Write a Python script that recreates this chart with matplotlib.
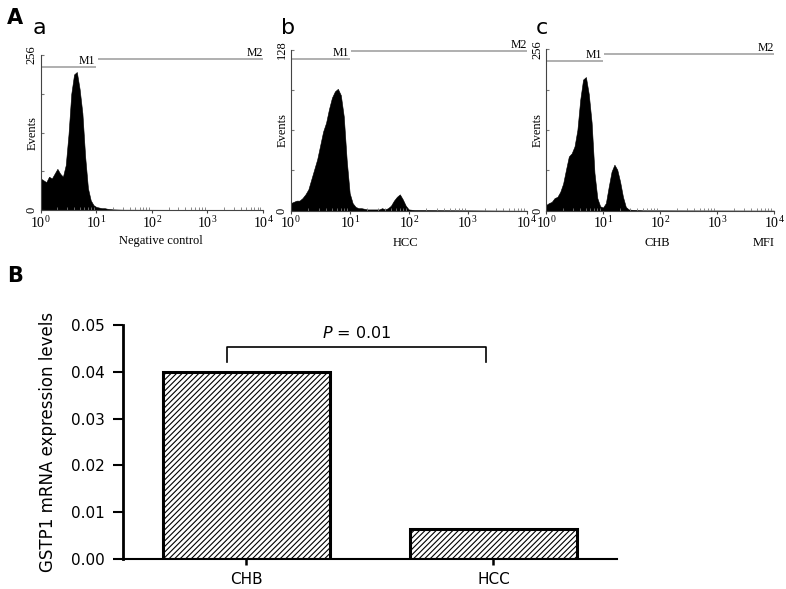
import numpy as np
import matplotlib.pyplot as plt

# =========================
# A. Flow cytometry histograms (log10 position, events)
# =========================
neg_log = [0.00, 0.05, 0.10, 0.15, 0.20, 0.25, 0.30, 0.35, 0.40, 0.45,
           0.50, 0.55, 0.60, 0.65, 0.70, 0.75, 0.80, 0.85, 0.90, 0.95,
           1.00, 1.05, 1.10, 1.15, 1.20, 1.30, 1.50, 4.00]
neg_events = [52, 49, 46, 55, 52, 60, 68, 60, 55, 74,
              125, 192, 224, 228, 200, 160, 88, 36, 16, 8,
              5, 4, 3, 3, 2, 1, 0.5, 0]

hcc_log = [0.00, 0.05, 0.10, 0.15, 0.20, 0.25, 0.30, 0.35, 0.40, 0.45,
           0.50, 0.55, 0.60, 0.65, 0.70, 0.75, 0.80, 0.85, 0.90, 0.95,
           1.00, 1.05, 1.10, 1.15, 1.20, 1.25, 1.30, 1.40, 1.50, 1.55,
           1.60, 1.65, 1.70, 1.75, 1.80, 1.85, 1.90, 1.95, 2.00, 2.10, 4.00]
hcc_events = [6, 7, 8, 8, 10, 13, 17, 25, 33, 41,
              52, 63, 70, 81, 90, 95, 97, 92, 75, 40,
              14, 6, 3, 2, 2, 1.5, 1, 1, 1, 2,
              1, 2, 4, 8, 11, 13, 9, 4, 1, 0.5, 0]

chb_log = [0.00, 0.05, 0.10, 0.15, 0.20, 0.25, 0.30, 0.35, 0.40, 0.45,
           0.50, 0.55, 0.60, 0.65, 0.70, 0.75, 0.80, 0.85, 0.90, 0.95,
           1.00, 1.05, 1.10, 1.15, 1.20, 1.25, 1.30, 1.35, 1.40, 1.45,
           1.50, 1.70, 4.00]
chb_events = [9, 12, 14, 20, 22, 30, 43, 65, 86, 91,
              102, 128, 176, 208, 212, 185, 140, 60, 20, 7,
              5, 12, 38, 62, 73, 65, 46, 22, 6, 2,
              1.5, 0.5, 0]

panel_letters = ['a', 'b', 'c']
panel_xlabels = ['Negative control', 'HCC', 'CHB']
panel_ymax = [256, 128, 256]
gate_m1 = [236, 121, 237]
gate_m2 = [249, 127, 248]

# =========================
# B. GSTP1 mRNA bar chart
# =========================
groups = ['CHB', 'HCC']
expr = [0.040, 0.0065]
p_text = '$P$ = 0.01'
bracket_y = 0.0454
bracket_drop = 0.0422

serif = 'Liberation Serif'
plt.rcParams['mathtext.fontset'] = 'custom'
plt.rcParams['mathtext.rm'] = 'Liberation Serif'
plt.rcParams['mathtext.it'] = 'DejaVu Sans:italic'
plt.rcParams['hatch.linewidth'] = 0.8

fig = plt.figure(figsize=(7.86, 5.89), dpi=100)

hist_rects = [[0.0518, 0.6435, 0.2828, 0.2630],
              [0.3698, 0.6423, 0.3003, 0.2730],
              [0.6947, 0.6423, 0.2900, 0.2740]]
hist_data = [(neg_log, neg_events), (hcc_log, hcc_events), (chb_log, chb_events)]
xlab_pos = [0.54, 0.485, 0.49]
letter_x = [0.042, 0.358, 0.681]

for i in range(3):
    ax = fig.add_axes(hist_rects[i])
    xs = 10 ** np.array(hist_data[i][0])
    ax.fill_between(xs, hist_data[i][1], color='black', lw=0.4)
    ax.set_xscale('log')
    ax.set_xlim(1, 1e4)
    ymax = panel_ymax[i]
    ax.set_ylim(0, ymax)

    # gates
    ax.hlines(gate_m1[i], 1, 10, color='#9a9a9a', lw=1.1, clip_on=False)
    ax.hlines(gate_m2[i], 10.6, 1e4, color='#9a9a9a', lw=1.1, clip_on=False)
    ax.text(9.6, gate_m1[i], 'M1', ha='right', va='bottom',
            family=serif, fontsize=8.5)
    ax.text(1e4, gate_m2[i], 'M2', ha='right', va='bottom',
            family=serif, fontsize=8.5)

    for s in ['top', 'right']:
        ax.spines[s].set_visible(False)
    for s in ['left', 'bottom']:
        ax.spines[s].set_color('#444444')
        ax.spines[s].set_linewidth(0.8)

    ax.set_xticks([1, 10, 100, 1000, 10000])
    ax.set_xticklabels(['$10^{0}$', '$10^{1}$', '$10^{2}$', '$10^{3}$', '$10^{4}$'],
                       fontsize=10)
    ax.tick_params(axis='x', which='major', direction='out', length=2, pad=1,
                   color='#444444')
    ax.tick_params(axis='x', which='minor', direction='in', length=2,
                   color='#777777', width=0.6)
    ax.set_yticks([0, ymax / 4, ymax / 2, 3 * ymax / 4, ymax])
    ax.set_yticklabels(['0', '', '', '', str(ymax)], rotation=90,
                       va='center', family=serif, fontsize=9)
    ax.tick_params(axis='y', direction='in', length=2, pad=2, color='#777777')

    ax.text(-0.035, 0.5, 'Events', rotation=90, transform=ax.transAxes,
            ha='center', va='center', family=serif, fontsize=9)
    ax.text(xlab_pos[i], -0.2, panel_xlabels[i], transform=ax.transAxes,
            ha='center', va='center', family=serif, fontsize=9)
    if i == 2:
        ax.text(0.956, -0.2, 'MFI', transform=ax.transAxes,
                ha='center', va='center', family=serif, fontsize=9)
    fig.text(letter_x[i], 0.952, panel_letters[i], ha='left', va='center',
             fontsize=16)

fig.text(0.009, 0.969, 'A', fontsize=15, fontweight='bold', ha='left', va='center')
fig.text(0.009, 0.531, 'B', fontsize=15, fontweight='bold', ha='left', va='center')

# ---- bar chart ----
axb = fig.add_axes([0.1561, 0.0509, 0.6289, 0.3973])
pos = np.arange(len(groups))
axb.bar(pos, expr, width=0.675, facecolor='white', edgecolor='black',
        linewidth=2.2, hatch='//////')
axb.set_xlim(-0.5, 1.5)
axb.set_ylim(0, 0.05)
axb.set_xticks(pos)
axb.set_xticklabels(groups, fontsize=11)
axb.set_yticks([0.00, 0.01, 0.02, 0.03, 0.04, 0.05])
axb.set_yticklabels(['0.00', '0.01', '0.02', '0.03', '0.04', '0.05'], fontsize=11)
axb.tick_params(axis='y', length=7, width=1.5, pad=6)
axb.tick_params(axis='x', length=4, width=1.8, pad=5)
axb.spines['top'].set_visible(False)
axb.spines['right'].set_visible(False)
axb.spines['left'].set_linewidth(2.0)
axb.spines['bottom'].set_linewidth(1.5)
axb.set_ylabel('GSTP1 mRNA expression levels', fontsize=12, labelpad=10)

# significance bracket
x0, x1 = pos[0] - 0.078, pos[1] - 0.03
axb.plot([x0, x0, x1, x1], [bracket_drop, bracket_y, bracket_y, bracket_drop],
         color='black', lw=1.2, clip_on=False)
axb.text((x0 + x1) / 2, 0.0483, p_text, ha='center', va='center', fontsize=11.5)

fig.savefig('out.png', dpi=100)
